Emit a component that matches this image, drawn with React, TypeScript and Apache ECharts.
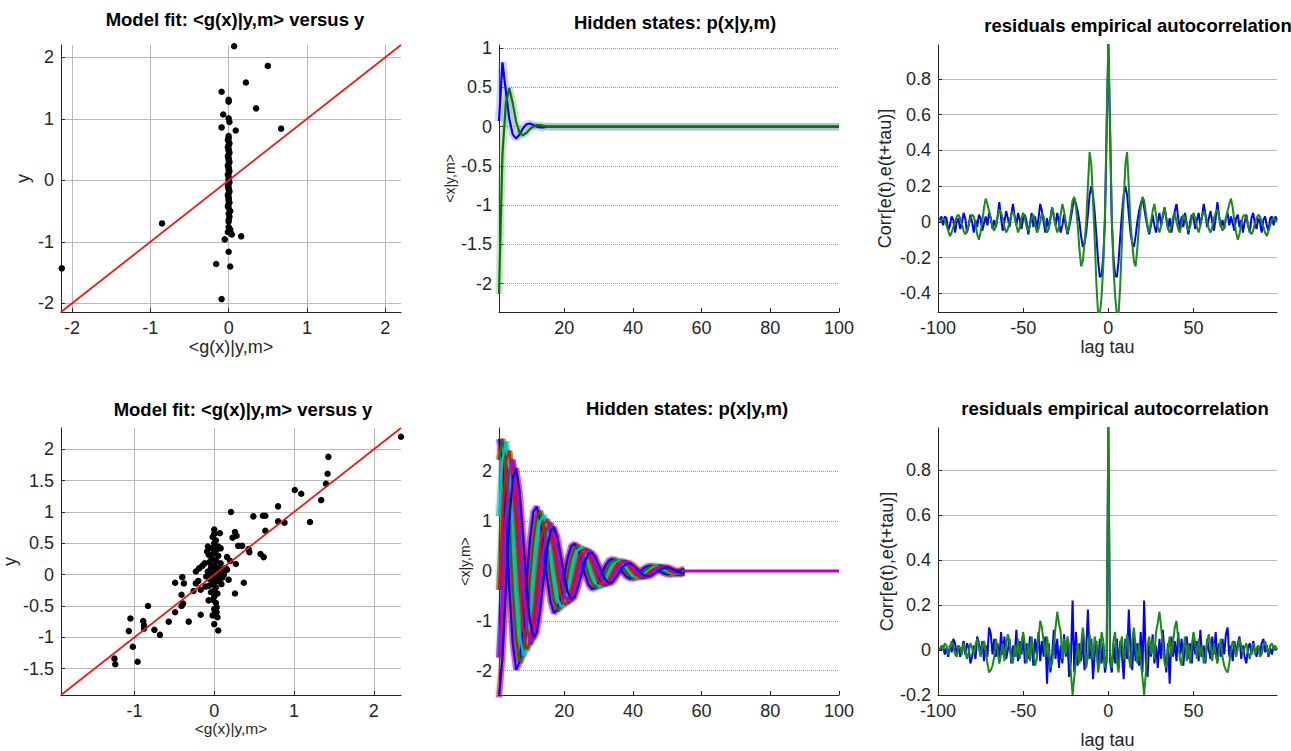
import React, { useEffect, useRef } from 'react';
import * as echarts from 'echarts';

const FONT = "'Liberation Sans', Arial, Helvetica, sans-serif";
const INK = '#262626';

// ---------- Panel 1 : model fit (top) ----------
const FIT1_LIMITS = [-2.14, 2.2];
const FIT1_TICKS = [-2, -1, 0, 1, 2];
const FIT1_POINTS: [number, number][] = [
  [0.07, 2.18], [0.5, 1.86], [0.22, 1.59], [-0.09, 1.44], [0.0, 1.31], [0.0, 1.28], [0.35, 1.17],
  [-0.07, 1.07], [0.0, 1.01], [0.01, 0.95], [-0.09, 0.86], [0.09, 0.81], [0.67, 0.84],
  [0.0, 0.72], [0.0, 0.69], [-0.01, 0.66], [0.0, 0.63], [0.01, 0.6], [0.0, 0.57], [-0.01, 0.54],
  [0.0, 0.51], [0.0, 0.48], [0.01, 0.45], [0.0, 0.42], [-0.01, 0.39], [0.0, 0.36], [0.0, 0.33],
  [0.01, 0.3], [0.0, 0.27], [-0.01, 0.24], [0.0, 0.21], [0.0, 0.18], [0.01, 0.15], [0.0, 0.12],
  [-0.01, 0.09], [0.0, 0.06], [0.0, 0.03], [0.0, 0.0], [0.01, -0.03], [0.0, -0.06], [-0.01, -0.09],
  [0.0, -0.12], [0.0, -0.15], [0.01, -0.18], [0.0, -0.21], [-0.01, -0.24], [0.0, -0.27], [0.0, -0.3],
  [0.0, -0.33], [0.01, -0.36], [0.0, -0.39], [-0.01, -0.42], [0.0, -0.45], [0.02, -0.5], [0.0, -0.54],
  [0.01, -0.59], [0.0, -0.64], [0.0, -0.67], [0.0, -0.76], [0.02, -0.8], [-0.01, -0.84], [0.03, -0.86],
  [0.04, -0.88], [0.16, -0.91], [-0.05, -0.96], [0.0, -1.16], [-0.16, -1.36], [0.02, -1.4],
  [-0.09, -1.93], [-0.85, -0.7], [-2.13, -1.43],
];

// ---------- Panel 2 : hidden states (top) ----------
const HS1_T = [1, 2, 3, 4, 5, 6, 7, 8, 9, 10, 11, 12, 13, 14, 15, 16, 17, 18, 19, 20, 100];
const HS1_BLUE = [0.07, 0.82, 0.45, 0.1, -0.1, -0.15, -0.1, -0.02, 0.03, 0.04, 0.02, 0.0, -0.01, -0.01, 0.0, 0, 0, 0, 0, 0, 0];
const HS1_GREEN = [-2.13, -0.35, 0.3, 0.49, 0.3, 0.06, -0.08, -0.11, -0.08, -0.03, 0.0, 0.02, 0.02, 0.01, 0.0, 0, 0, 0, 0, 0, 0];
const HS1_YTICKS = [-2, -1.5, -1, -0.5, 0, 0.5, 1];
const HS_XTICKS = [20, 40, 60, 80, 100];

// ---------- Panel 3 : residual autocorrelation (top), lags 0..99 ----------
const ACF1_GREEN = [
  1.0, 0.55, 0.05, -0.25, -0.42, -0.52, -0.52, -0.35, -0.1, 0.12,
  0.32, 0.39, 0.2, 0.0, -0.12, -0.22, -0.25, -0.15, -0.02, 0.08,
  0.14, 0.12, 0.05, -0.02, -0.06, 0.0, 0.06, 0.1, 0.04, -0.03,
  -0.06, -0.02, 0.04, 0.08, 0.02, -0.04, -0.06, -0.02, 0.03, 0.05,
  0.0, -0.04, -0.06, -0.01, 0.04, 0.02, -0.02, -0.05, -0.03, 0.02,
  0.05, 0.02, -0.03, -0.06, -0.02, 0.03, 0.06, 0.04, 0.0, -0.04,
  -0.06, -0.03, 0.02, 0.05, 0.07, 0.03, -0.02, -0.05, -0.03, 0.02,
  0.06, 0.1, 0.13, 0.08, 0.0, -0.06, -0.1, -0.07, -0.01, 0.03,
  0.04, 0.02, -0.02, -0.05, -0.07, -0.05, -0.01, 0.02, 0.04, 0.03,
  0.0, -0.03, -0.06, -0.08, -0.05, -0.02, 0.01, 0.02, 0.01, 0.0,
];
const ACF1_BLUE = [
  1.0, 0.5, 0.0, -0.2, -0.3, -0.31, -0.22, -0.08, 0.05, 0.15,
  0.2, 0.15, 0.04, -0.06, -0.12, -0.14, -0.08, 0.0, 0.06, 0.1,
  0.13, 0.08, 0.02, -0.03, -0.07, -0.02, 0.04, -0.02, -0.06, 0.0,
  0.05, -0.02, 0.03, 0.08, 0.02, -0.04, 0.02, -0.06, 0.0, 0.06,
  0.1, 0.02, -0.04, 0.03, -0.03, 0.05, -0.01, -0.07, 0.0, 0.04,
  0.02, -0.04, 0.01, 0.05, -0.02, 0.03, 0.1, 0.04, -0.03, 0.02,
  0.06, 0.0, -0.05, 0.02, 0.11, 0.03, -0.03, 0.01, -0.04, 0.02,
  0.05, -0.02, 0.03, -0.01, -0.05, 0.02, 0.04, -0.03, 0.01, -0.06,
  0.0, 0.04, -0.02, -0.06, 0.02, 0.05, -0.01, -0.04, 0.02, 0.0,
  -0.06, 0.01, 0.03, -0.02, -0.05, 0.02, 0.03, -0.02, 0.03, 0.01,
];
const ACF1_YTICKS = [-0.4, -0.2, 0, 0.2, 0.4, 0.6, 0.8];
const LAG_TICKS = [-100, -50, 0, 50];

// ---------- Panel 4 : model fit (bottom) ----------
const FIT2_LIMITS = [-1.92, 2.34];
const FIT2_XTICKS = [-1, 0, 1, 2];
const FIT2_YTICKS = [-1.5, -1, -0.5, 0, 0.5, 1, 1.5, 2];
const FIT2_POINTS: [number, number][] = [
  [2.34, 2.2], [1.43, 1.88], [1.42, 1.61], [1.4, 1.45], [1.01, 1.35], [1.09, 1.29], [1.34, 1.19],
  [1.2, 0.84], [0.8, 1.09], [0.8, 0.85], [0.88, 0.83], [0.64, 0.7], [0.21, 1.0], [0.49, 0.93],
  [0.61, 0.94], [0.64, 0.94], [0.58, 0.33], [0.62, 0.28], [0.43, 0.41], [0.44, 0.36], [0.37, -0.13],
  [0.26, -0.3], [0.27, 0.17], [0.3, 0.46], [0.35, 0.46], [0.26, 0.68], [0.28, 0.62], [0.23, 0.59],
  [0.16, 0.28], [0.16, 0.08], [0.18, -0.08], [0.07, 0.66], [0.0, 0.72], [0.05, 0.45], [0.03, -0.52],
  [0.05, -0.89], [0.0, -0.79], [0.01, -0.62], [-0.07, -0.41], [-0.11, -0.19], [-0.17, -0.24],
  [-0.23, -0.14], [-0.26, -0.26], [-0.17, -0.64], [-0.32, -0.75], [-0.49, -0.13], [-0.38, -0.14],
  [-0.4, -0.04], [-0.41, -0.32], [-0.39, -0.46], [-0.41, -0.5], [-0.49, -0.6], [-0.57, -0.75],
  [-0.68, -0.96], [-0.75, -0.88], [-0.83, -0.5], [-0.88, -0.81], [-0.89, -0.74], [-0.88, -0.86],
  [-1.05, -0.7], [-1.07, -0.9], [-1.02, -1.15], [-0.96, -1.39], [-1.25, -1.34], [-1.24, -1.43],
  [-1.7, -1.94], [-0.23, 0.05], [-0.19, 0.1], [-0.12, 0.18], [-0.09, 0.37], [-0.07, 0.32],
  [0.0, 0.65], [-0.02, 0.6], [0.02, 0.55], [0.0, 0.5], [-0.03, 0.42], [0.03, 0.4], [0.0, 0.35],
  [-0.05, 0.3], [0.05, 0.3], [-0.02, 0.25], [0.02, 0.22], [-0.06, 0.2], [0.08, 0.18], [0.0, 0.15],
  [-0.04, 0.12], [0.04, 0.1], [0.1, 0.08], [-0.08, 0.05], [0.0, 0.05], [0.06, 0.02], [-0.03, 0.0],
  [0.03, -0.02], [0.12, 0.0], [-0.1, -0.03], [0.0, -0.05], [-0.05, -0.08], [0.05, -0.1], [0.0, -0.12],
  [-0.02, -0.15], [0.09, -0.15], [-0.07, -0.18], [0.02, -0.2], [0.0, -0.25], [-0.04, -0.28],
  [0.04, -0.3], [0.0, -0.35], [-0.02, -0.4], [0.02, -0.45], [0.0, -0.55], [0.03, -0.6], [-0.02, -0.65],
  [0.04, -0.68], [0.14, 0.1], [0.1, -0.05], [0.13, 0.06], [-0.15, 0.14], [-0.2, -0.1], [0.2, 0.22],
  [0.08, 0.42], [-0.08, 0.45],
];

// ---------- Panel 5 : hidden states (bottom), t = 1..55 ----------
const HS2_L1 = [
  2.65, 2.23, 1.08, -0.34, -1.46, -1.98, -1.83, -1.16, -0.23, 0.63,
  1.18, 1.29, 1.01, 0.46, -0.15, -0.62, -0.84, -0.78, -0.49, -0.1,
  0.27, 0.5, 0.55, 0.43, 0.2, -0.06, -0.27, -0.36, -0.33, -0.21,
  -0.04, 0.11, 0.21, 0.24, 0.18, 0.08, -0.03, -0.11, -0.15, -0.14,
  -0.09, -0.02, 0.05, 0.09, 0.1, 0.08, 0.04, -0.01, -0.05, -0.07,
  -0.06, -0.04, -0.01, 0.02, 0.04,
];
const HS2_L2 = [
  2.23, 2.65, 2.19, 1.0, -0.32, -1.35, -1.83, -1.69, -1.07, -0.21,
  0.58, 1.09, 1.2, 0.93, 0.43, -0.13, -0.58, -0.78, -0.72, -0.46,
  -0.09, 0.25, 0.46, 0.51, 0.4, 0.18, -0.06, -0.24, -0.33, -0.31,
  -0.19, -0.04, 0.11, 0.2, 0.22, 0.17, 0.08, -0.02, -0.1, -0.14,
  -0.13, -0.08, -0.02, 0.04, 0.08, 0.09, 0.07, 0.03, -0.01, -0.04,
  -0.06, -0.06, -0.04, -0.01, 0.02,
];
const HS2_L3 = [
  1.1, 2.23, 2.6, 2.02, 0.92, -0.29, -1.25, -1.69, -1.57, -0.99,
  -0.2, 0.54, 1.01, 1.11, 0.86, 0.39, -0.12, -0.53, -0.72, -0.67,
  -0.42, -0.08, 0.23, 0.43, 0.47, 0.37, 0.17, -0.05, -0.23, -0.31,
  -0.28, -0.18, -0.04, 0.1, 0.18, 0.2, 0.16, 0.07, -0.02, -0.1,
  -0.13, -0.12, -0.08, -0.02, 0.04, 0.08, 0.09, 0.07, 0.03, -0.01,
  -0.04, -0.06, -0.05, -0.03, -0.01,
];
const HS2_L4 = [
  -0.38, 1.1, 2.19, 2.41, 1.87, 0.86, -0.27, -1.16, -1.57, -1.45,
  -0.92, -0.18, 0.5, 0.93, 1.03, 0.8, 0.36, -0.12, -0.49, -0.67,
  -0.62, -0.39, -0.08, 0.21, 0.4, 0.44, 0.34, 0.16, -0.05, -0.21,
  -0.28, -0.26, -0.17, -0.03, 0.09, 0.17, 0.19, 0.14, 0.07, -0.02,
  -0.09, -0.12, -0.11, -0.07, -0.01, 0.04, 0.07, 0.08, 0.06, 0.03,
  -0.01, -0.04, -0.05, -0.05, -0.03,
];
const HS2_L5 = [
  -1.74, -0.38, 1.08, 2.02, 2.23, 1.73, 0.79, -0.25, -1.07, -1.45,
  -1.34, -0.85, -0.17, 0.46, 0.86, 0.95, 0.74, 0.34, -0.11, -0.46,
  -0.62, -0.57, -0.36, -0.07, 0.2, 0.37, 0.41, 0.31, 0.14, -0.05,
  -0.19, -0.26, -0.24, -0.15, -0.03, 0.08, 0.16, 0.17, 0.13, 0.06,
  -0.02, -0.08, -0.11, -0.1, -0.07, -0.01, 0.04, 0.07, 0.07, 0.06,
  0.03, -0.01, -0.04, -0.05, -0.04,
];
const HS2_L6 = [
  -2.54, -1.74, -0.37, 1.0, 1.87, 2.06, 1.6, 0.73, -0.23, -0.99,
  -1.34, -1.24, -0.78, -0.16, 0.43, 0.8, 0.88, 0.68, 0.31, -0.1,
  -0.42, -0.57, -0.53, -0.33, -0.07, 0.18, 0.34, 0.37, 0.29, 0.13,
  -0.04, -0.18, -0.24, -0.23, -0.14, -0.03, 0.08, 0.14, 0.16, 0.12,
  0.06, -0.02, -0.08, -0.1, -0.1, -0.06, -0.01, 0.03, 0.06, 0.07,
  0.05, 0.02, -0.01, -0.03, -0.04,
];
const HS2_TAIL_T = [55, 100];
const HS2_TAIL_X = [0, 0];
const HS2_SHADE_COLORS = ['#bf00bf', '#ff0000', '#00bfbf', '#008000', '#0000ff', '#ff0000'];
const HS2_COLORS = ['#0000ff', '#008000', '#00bfbf', '#ff0000', '#bf00bf', '#0000ff'];
const HS2_YTICKS = [-2, -1, 0, 1, 2];

// ---------- Panel 6 : residual autocorrelation (bottom), lags 0..99 ----------
const ACF2_GREEN = [
  1.0, -0.02, -0.08, 0.04, 0.08, -0.05, -0.1, 0.02, 0.06, -0.04,
  0.0, 0.07, -0.03, -0.08, 0.04, 0.1, 0.02, -0.06, 0.03, -0.05,
  -0.12, -0.2, -0.1, 0.02, 0.06, -0.02, 0.05, -0.04, 0.08, 0.12,
  0.17, 0.1, 0.02, -0.06, -0.08, 0.0, 0.06, -0.03, 0.04, 0.1,
  0.13, 0.05, -0.04, -0.07, 0.0, 0.06, -0.05, 0.03, -0.06, 0.02,
  0.08, 0.03, -0.04, 0.05, -0.03, 0.02, -0.06, -0.04, 0.04, 0.07,
  0.02, -0.05, 0.03, -0.02, -0.06, 0.0, 0.05, -0.03, -0.07, -0.09,
  -0.1, -0.06, 0.0, 0.04, 0.02, -0.03, 0.01, 0.05, 0.02, -0.02,
  0.01, 0.03, -0.01, -0.04, 0.0, 0.03, -0.02, 0.01, 0.02, -0.03,
  -0.02, 0.02, 0.04, 0.01, -0.02, 0.02, 0.03, 0.0, 0.02, 0.0,
];
const ACF2_BLUE = [
  1.0, -0.05, -0.1, 0.03, -0.06, 0.05, -0.08, 0.04, -0.02, -0.13,
  0.05, -0.04, 0.18, 0.0, -0.09, 0.06, -0.05, 0.03, -0.07, 0.08,
  -0.1, 0.22, -0.05, -0.12, 0.04, -0.03, 0.07, -0.06, 0.02, -0.08,
  0.05, -0.04, 0.09, -0.02, -0.1, 0.03, -0.15, 0.06, -0.03, 0.04,
  -0.05, 0.08, -0.02, 0.05, -0.07, 0.02, 0.06, -0.04, 0.03, -0.06,
  0.07, -0.02, 0.04, -0.05, 0.09, -0.03, 0.02, -0.06, 0.05, 0.0,
  -0.04, 0.06, -0.02, 0.08, -0.05, 0.03, -0.03, 0.05, -0.02, 0.07,
  0.1, -0.03, 0.02, -0.05, 0.04, -0.02, 0.03, 0.06, -0.04, 0.02,
  -0.03, -0.06, 0.01, 0.03, -0.02, 0.04, 0.0, -0.03, 0.02, -0.02,
  0.03, 0.05, -0.01, 0.02, -0.03, 0.01, -0.02, 0.02, 0.0, 0.01,
];
const ACF2_YTICKS = [-0.2, 0, 0.2, 0.4, 0.6, 0.8];

// ---------- helpers ----------
const pairs = (xs: number[], ys: number[]) => xs.map((x, i) => [x, ys[i]]);
const seq = (n: number) => Array.from({ length: n }, (_, i) => i + 1);
const mirrorLags = (half: number[]) => {
  const out: number[][] = [];
  for (let k = half.length - 1; k >= 1; k--) out.push([-k, half[k]]);
  for (let k = 0; k < half.length; k++) out.push([k, half[k]]);
  return out;
};

const GRIDS = [
  { left: 61, top: 45, width: 340, height: 267 },
  { left: 499, top: 45, width: 340, height: 267 },
  { left: 938, top: 45, width: 339, height: 267 },
  { left: 61, top: 428, width: 340, height: 267 },
  { left: 499, top: 428, width: 340, height: 267 },
  { left: 938, top: 428, width: 339, height: 267 },
];

const SOLID_GRID = { color: '#b9b9b9', width: 1, type: 'solid' };
const DOT_GRID = { color: '#9a9a9a', width: 1, type: 'dotted' };

function mkAxis(grid: number, min: number, max: number, ticks: number[], split: any, extra: any = {}) {
  return {
    type: 'value',
    gridIndex: grid,
    min,
    max,
    axisLine: { show: true, onZero: false, lineStyle: { color: INK, width: 1 } },
    axisTick: { show: true, inside: true, length: 4, customValues: ticks, lineStyle: { color: INK } },
    axisLabel: { customValues: ticks, fontSize: 18, color: INK, fontFamily: FONT, margin: 7 },
    splitLine: split ? { show: true, lineStyle: split } : { show: false },
    nameTextStyle: { fontFamily: FONT, color: INK, fontSize: 18 },
    nameLocation: 'middle',
    ...extra,
  };
}

function lineSeries(axis: number, data: any, color: string, width: number, opacity = 1) {
  return {
    type: 'line',
    xAxisIndex: axis,
    yAxisIndex: axis,
    data,
    symbol: 'none',
    silent: true,
    lineStyle: { color, width, opacity },
    itemStyle: { color },
  };
}

function titleAt(text: string, cx: number, top: number) {
  return {
    text,
    left: cx,
    top,
    textAlign: 'center',
    textStyle: { fontSize: 18.5, fontWeight: 'bold', fontFamily: FONT, color: '#000' },
  };
}

function buildOption() {
  const hs2Lines = [HS2_L1, HS2_L2, HS2_L3, HS2_L4, HS2_L5, HS2_L6];
  const t55 = seq(55);
  const series: any[] = [];

  // panel 1
  series.push(lineSeries(0, [[FIT1_LIMITS[0], FIT1_LIMITS[0]], [FIT1_LIMITS[1], FIT1_LIMITS[1]]], '#f01818', 1.8));
  series.push({ type: 'scatter', xAxisIndex: 0, yAxisIndex: 0, data: FIT1_POINTS, symbolSize: 6.5, itemStyle: { color: '#000', opacity: 1 }, silent: true });

  // panel 2
  series.push(lineSeries(1, pairs(HS1_T, HS1_BLUE), '#7070ff', 8, 0.3));
  series.push(lineSeries(1, pairs(HS1_T, HS1_GREEN), '#5aa05a', 7, 0.3));
  series.push(lineSeries(1, pairs(HS1_T, HS1_BLUE), '#0000ff', 2.2));
  series.push(lineSeries(1, pairs(HS1_T, HS1_GREEN), '#007a00', 2.2));

  // panel 3
  series.push(lineSeries(2, mirrorLags(ACF1_BLUE), '#0000ff', 2));
  series.push(lineSeries(2, mirrorLags(ACF1_GREEN), '#1a8a1a', 2));

  // panel 4
  series.push(lineSeries(3, [[FIT2_LIMITS[0], FIT2_LIMITS[0]], [FIT2_LIMITS[1], FIT2_LIMITS[1]]], '#f01818', 1.8));
  series.push({ type: 'scatter', xAxisIndex: 3, yAxisIndex: 3, data: FIT2_POINTS, symbolSize: 6.5, itemStyle: { color: '#000', opacity: 1 }, silent: true });

  // panel 5
  hs2Lines.forEach((ys) => series.push(lineSeries(4, pairs(t55, ys), '#9a9a9a', 9, 0.18)));
  hs2Lines.forEach((ys, i) => series.push(lineSeries(4, pairs(t55, ys), HS2_SHADE_COLORS[i], 6, 0.6)));
  hs2Lines.forEach((ys, i) => series.push(lineSeries(4, pairs(t55, ys), HS2_COLORS[i], 2.2)));
  series.push(lineSeries(4, pairs(HS2_TAIL_T, HS2_TAIL_X), '#bf00bf', 3));

  // panel 6
  series.push(lineSeries(5, mirrorLags(ACF2_BLUE), '#0000ff', 2));
  series.push(lineSeries(5, mirrorLags(ACF2_GREEN), '#1a8a1a', 2));

  return {
    animation: false,
    backgroundColor: '#ffffff',
    title: [
      titleAt('Model fit: <g(x)|y,m> versus y', 230, 5),
      titleAt('Hidden states: p(x|y,m)', 670, 8),
      titleAt('residuals empirical autocorrelation', 1133, 11),
      titleAt('Model fit: <g(x)|y,m> versus y', 238, 395),
      titleAt('Hidden states: p(x|y,m)', 682, 394),
      titleAt('residuals empirical autocorrelation', 1110, 394),
    ],
    grid: GRIDS,
    xAxis: [
      mkAxis(0, FIT1_LIMITS[0], FIT1_LIMITS[1], FIT1_TICKS, SOLID_GRID, { name: '<g(x)|y,m>', nameGap: 21 }),
      mkAxis(1, 1, 100, HS_XTICKS, null),
      mkAxis(2, -100, 99, LAG_TICKS, null, { name: 'lag tau', nameGap: 22 }),
      mkAxis(3, FIT2_LIMITS[0], FIT2_LIMITS[1], FIT2_XTICKS, SOLID_GRID, {
        name: '<g(x)|y,m>', nameGap: 22, nameTextStyle: { fontFamily: FONT, color: INK, fontSize: 15.5 },
      }),
      mkAxis(4, 1, 100, HS_XTICKS, null),
      mkAxis(5, -100, 99, LAG_TICKS, null, { name: 'lag tau', nameGap: 36 }),
    ],
    yAxis: [
      mkAxis(0, FIT1_LIMITS[0], FIT1_LIMITS[1], FIT1_TICKS, SOLID_GRID, { name: 'y', nameGap: 29 }),
      mkAxis(1, -2.36, 1.04, HS1_YTICKS, DOT_GRID, {
        name: '<x|y,m>', nameGap: 37, nameTextStyle: { fontFamily: FONT, color: INK, fontSize: 14 },
      }),
      mkAxis(2, -0.505, 0.99, ACF1_YTICKS, SOLID_GRID, { name: 'Corr[e(t),e(t+tau)]', nameGap: 44 }),
      mkAxis(3, FIT2_LIMITS[0], FIT2_LIMITS[1], FIT2_YTICKS, SOLID_GRID, { name: 'y', nameGap: 38 }),
      mkAxis(4, -2.49, 2.87, HS2_YTICKS, DOT_GRID, {
        name: '<x|y,m>', nameGap: 26, nameTextStyle: { fontFamily: FONT, color: INK, fontSize: 14 },
      }),
      mkAxis(5, -0.2, 0.987, ACF2_YTICKS, SOLID_GRID, { name: 'Corr[e(t),e(t+tau)]', nameGap: 41 }),
    ],
    series,
  };
}

export default function App() {
  const ref = useRef<HTMLDivElement>(null);
  useEffect(() => {
    if (!ref.current) return;
    const chart = echarts.init(ref.current, null, { renderer: 'svg' });
    chart.setOption(buildOption() as any);
    return () => chart.dispose();
  }, []);
  return (
    <div
      ref={ref}
      style={{ position: 'fixed', left: 0, top: 0, width: 1291, height: 751, background: '#ffffff' }}
    />
  );
}
